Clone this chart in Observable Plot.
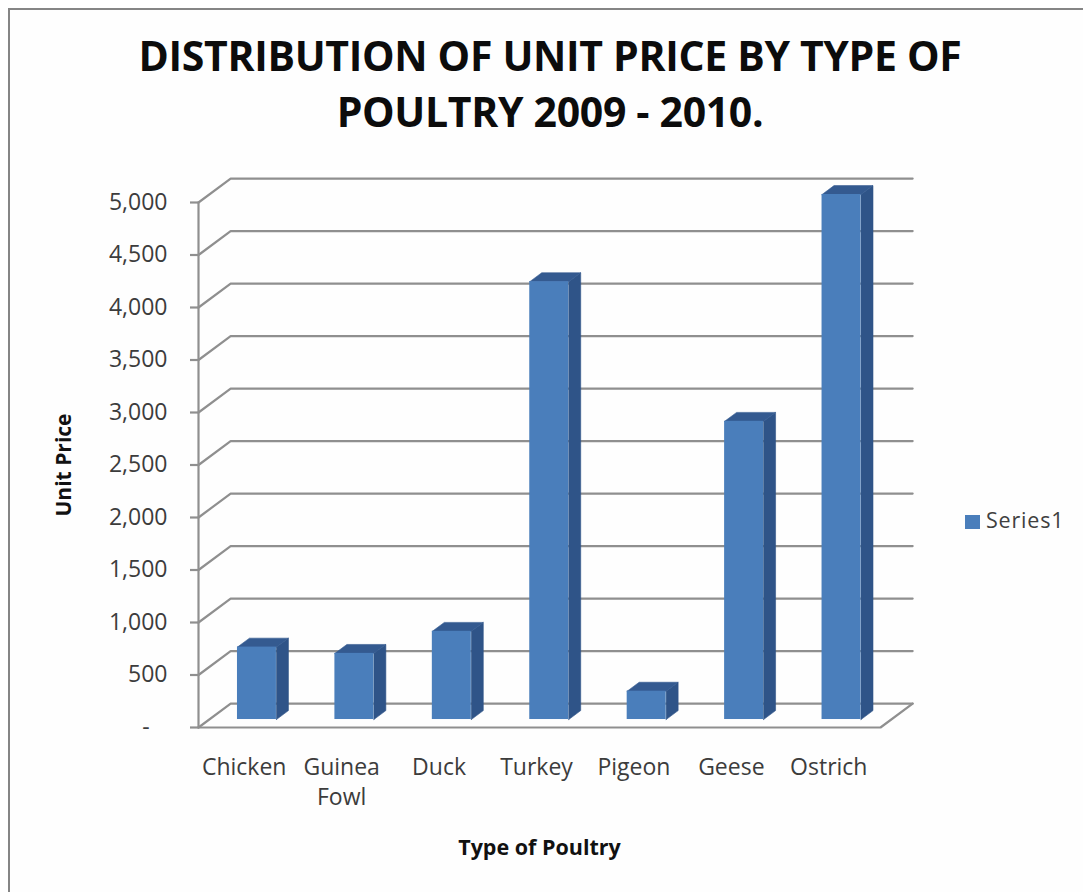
<!DOCTYPE html>
<html>
<head>
<meta charset="utf-8">
<script src="https://cdn.jsdelivr.net/npm/d3@7"></script>
<script src="https://cdn.jsdelivr.net/npm/@observablehq/plot@0.6"></script>
<style>
  html, body { margin: 0; padding: 0; background: #fff; }
  #page { position: relative; width: 1083px; height: 892px; overflow: hidden; background: #fff; }
  #edge { position: absolute; left: 8px; top: 8px; right: -10px; bottom: -10px; border: 2px solid #858585; background: #fefefe; }
  #title { position: absolute; left: 10px; width: 1080px; top: 27px; margin: 0; text-align: center;
           font: 700 41px/56px "Open Sans", sans-serif; color: #0c0c0c; letter-spacing: -0.33px; }
  #legend { position: absolute; left: 965px; top: 506px; font: 21.5px/28px "Open Sans", sans-serif; color: #404040; letter-spacing: 0.8px; white-space: nowrap; }
  #legend i { display: inline-block; width: 15px; height: 14px; background: #4a7ebb; margin-right: 6px; vertical-align: -1px; }
  svg { position: absolute; left: 0; top: 0; background: transparent !important; }
</style>
</head>
<body>
<div id="page">
  <div id="edge"></div>
  <div id="chart"></div>
  <h1 id="title">DISTRIBUTION OF UNIT PRICE BY TYPE OF<br>POULTRY 2009 - 2010.</h1>
  <div id="legend"><i></i>Series1</div>
</div>
<script>
const categories = ["Chicken", "Guinea\nFowl", "Duck", "Turkey", "Pigeon", "Geese", "Ostrich"];
const unitPrices = [690, 630, 840, 4170, 270, 2840, 5000];
const priceTicks = [0, 500, 1000, 1500, 2000, 2500, 3000, 3500, 4000, 4500, 5000];

// the pseudo-3D projection, in scale units
const wallDepthX = 0.33, wallDepthY = 228;
const barStart = 0.4, barWidth = 0.4, barDepthX = 0.123, barDepthY = 85, barBase = 76;

const gridRuns = priceTicks.flatMap(v => [
  {v, x: 0, y: v},
  {v, x: wallDepthX, y: v + wallDepthY},
  {v, x: categories.length + wallDepthX, y: v + wallDepthY}
]);
const floorEdge = [
  {x: 0, y: 0},
  {x: categories.length, y: 0},
  {x: categories.length + wallDepthX, y: wallDepthY}
];
const valueEdge = [{x: 0, y: 0}, {x: 0, y: 5000}];
const bars = unitPrices.map((value, i) => ({
  i, x1: i + barStart, x2: i + barStart + barWidth, y1: barBase, y2: barBase + value
}));
const sides = bars.flatMap(b => [
  {id: b.i, x: b.x2, y: b.y1},
  {id: b.i, x: b.x2 + barDepthX, y: b.y1 + barDepthY},
  {id: b.i, x: b.x2 + barDepthX, y: b.y2 + barDepthY},
  {id: b.i, x: b.x2, y: b.y2},
  {id: b.i, x: b.x2, y: b.y1}
]);
const tops = bars.flatMap(b => [
  {id: b.i, x: b.x1, y: b.y2},
  {id: b.i, x: b.x1 + barDepthX, y: b.y2 + barDepthY},
  {id: b.i, x: b.x2 + barDepthX, y: b.y2 + barDepthY},
  {id: b.i, x: b.x2, y: b.y2},
  {id: b.i, x: b.x1, y: b.y2}
]);

const font = "'Open Sans', sans-serif";
const grey = "#8f8f8f";

const chart = Plot.plot({
  width: 1083,
  height: 892,
  marginLeft: 198,
  marginRight: 203,
  marginTop: 202,
  marginBottom: 165,
  style: {background: "transparent", overflow: "visible"},
  x: {type: "linear", domain: [0, categories.length]},
  y: {domain: [0, 5000]},
  marks: [
    Plot.line(gridRuns, {x: "x", y: "y", z: "v", stroke: grey, strokeWidth: 2.2}),
    Plot.line(floorEdge, {x: "x", y: "y", stroke: grey, strokeWidth: 2.2}),
    Plot.line(valueEdge, {x: "x", y: "y", stroke: grey, strokeWidth: 2.2}),
    Plot.axisY({
      ticks: priceTicks, tickSize: 8, tickPadding: 23, stroke: grey, strokeWidth: 2.2,
      tickFormat: v => v === 0 ? "-\u00a0\u00a0\u00a0" : d3.format(",")(v),
      label: null, fill: "#3c3c3c", fontFamily: font, fontSize: 23, letterSpacing: "1.6px"
    }),
    Plot.axisX({
      ticks: categories.map((c, i) => i + 0.5), tickSize: 0, tickPadding: 26, dx: -3,
      tickFormat: t => categories[Math.floor(t)],
      label: null, fill: "#3c3c3c", fontFamily: font, fontSize: 23, letterSpacing: "0.5px", lineHeight: 1.3
    }),
    Plot.line(sides, {x: "x", y: "y", z: "id", fill: "#2f5488", stroke: "#2f5488", strokeWidth: 0.6}),
    Plot.line(tops, {x: "x", y: "y", z: "id", fill: "#345a90", stroke: "#345a90", strokeWidth: 0.6}),
    Plot.rect(bars, {x1: "x1", x2: "x2", y1: "y1", y2: "y2", fill: "#4a7ebb"}),
    Plot.text(["Type of Poultry"], {
      frameAnchor: "bottom", dy: 127, fontFamily: font,
      fontSize: 21.5, fontWeight: 700, fill: "#111"
    }),
    Plot.text(["Unit Price"], {
      frameAnchor: "left", textAnchor: "middle", dx: -134, rotate: -90, fontFamily: font,
      fontSize: 21, fontWeight: 700, fill: "#111"
    })
  ]
});
document.getElementById("chart").appendChild(chart);
</script>
</body>
</html>
